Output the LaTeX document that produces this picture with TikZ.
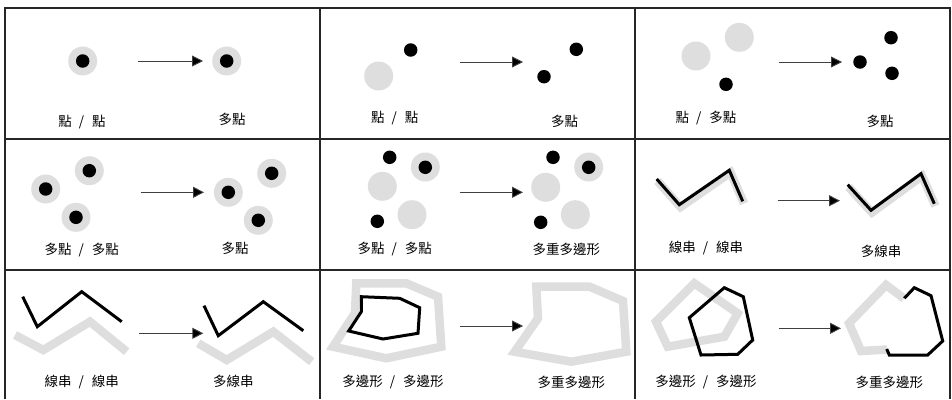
\documentclass[tikz,border=0pt]{standalone}
\usepackage{fontspec}
\setmainfont{Noto Sans CJK TC}
\usetikzlibrary{arrows.meta}
\definecolor{lg}{RGB}{222,222,222}
\newcommand{\slsep}{\hspace{7pt}/\hspace{8pt}}
\tikzset{
 gridline/.style={line width=1.4pt, draw=black!85},
 halo/.style={circle, fill=lg, minimum size=29pt, inner sep=0pt},
 dot/.style={circle, fill=black, minimum size=13.5pt, inner sep=0pt},
 arr/.style={-{Triangle[length=11pt,width=11pt,fill=black]}, line width=0.9pt, draw=black!75},
 lbl/.style={font=\fontsize{13.5}{15}\selectfont, inner sep=0pt},
 bline/.style={line width=3pt, line join=miter, draw=black},
 gline/.style={line width=8.5pt, draw=lg, line join=miter},
}
\begin{document}
\begin{tikzpicture}[x=1pt,y=-1pt]
\useasboundingbox (0,0) rectangle (952,399);
% grid
\draw[gridline] (5,399) -- (5,8) -- (950,8) -- (950,399);
\draw[gridline] (320,8) -- (320,399);
\draw[gridline] (635,8) -- (635,399);
\draw[gridline] (5,139) -- (950,139);
\draw[gridline] (5,270) -- (950,270);

% ---------- cell 1
\node[halo] (h11) at (82.7,61) {};
\node[dot] (d11) at (82.7,61) {};
\node[halo] (h12) at (226.7,61) {};
\node[dot] (d12) at (226.7,61) {};
\coordinate (a1s) at (138,61);
\coordinate (a1e) at (203,61);
\draw[arr] (a1s) -- (a1e);
\node[lbl] (l1a) at (82,122) {點\slsep 點};
\node[lbl] (l1b) at (232,119.5) {多點};

% ---------- cell 2
\node[halo] (h21) at (378.7,76) {};
\node[dot] (d21) at (410.7,50) {};
\node[dot] (d22) at (544,76.7) {};
\node[dot] (d23) at (576.3,49.3) {};
\coordinate (a2s) at (459.7,62);
\coordinate (a2e) at (523,62);
\draw[arr] (a2s) -- (a2e);
\node[lbl] (l2a) at (394.7,118) {點\slsep 點};
\node[lbl] (l2b) at (564.7,121.7) {多點};

% ---------- cell 3
\node[halo] (h31) at (696,56) {};
\node[halo] (h32) at (739.3,37.3) {};
\node[dot] (d31) at (726,84.3) {};
\node[dot] (d32) at (860,62) {};
\node[dot] (d33) at (891,37.7) {};
\node[dot] (d34) at (892,73.3) {};
\coordinate (a3s) at (778.7,62);
\coordinate (a3e) at (842,62);
\draw[arr] (a3s) -- (a3e);
\node[lbl] (l3a) at (706,118.3) {點\slsep 多點};
\node[lbl] (l3b) at (880,121.7) {多點};

% ---------- cell 4
\node[halo] (h41) at (45.7,189) {};
\node[dot] (d41) at (45.7,189) {};
\node[halo] (h42) at (89.3,170.7) {};
\node[dot] (d42) at (89.3,170.7) {};
\node[halo] (h43) at (76,217.3) {};
\node[dot] (d43) at (76,217.3) {};
\node[halo] (h44) at (228.3,192.3) {};
\node[dot] (d44) at (228.3,192.3) {};
\node[halo] (h45) at (271.7,173.3) {};
\node[dot] (d45) at (271.7,173.3) {};
\node[halo] (h46) at (258.3,220.3) {};
\node[dot] (d46) at (258.3,220.3) {};
\coordinate (a4s) at (140.7,192.3);
\coordinate (a4e) at (204,192.3);
\draw[arr] (a4s) -- (a4e);
\node[lbl] (l4a) at (81.7,249.7) {多點\slsep 多點};
\node[lbl] (l4b) at (235,248) {多點};

% ---------- cell 5
\node[dot] (d51) at (389.7,157.3) {};
\node[halo] (h51) at (425.3,167) {};
\node[dot] (d52) at (425.3,167.3) {};
\node[halo] (h52) at (382.3,186.3) {};
\node[halo] (h53) at (412,214.7) {};
\node[dot] (d53) at (377.3,221.3) {};
\node[dot] (d54) at (553,157.3) {};
\node[halo] (h54) at (588.7,167) {};
\node[dot] (d55) at (588.7,167.3) {};
\node[halo] (h55) at (545.7,187.3) {};
\node[halo] (h56) at (575.3,214.7) {};
\node[dot] (d56) at (540.7,222.3) {};
\coordinate (a5s) at (459.7,192.3);
\coordinate (a5e) at (523,192.3);
\draw[arr] (a5s) -- (a5e);
\node[lbl] (l5a) at (394.7,249) {多點\slsep 多點};
\node[lbl] (l5b) at (566.3,249.7) {多重多邊形};

% ---------- cell 6
\draw[gline] (657.5,181) -- (680.5,207) -- (730.5,172.5) -- (744,203.5);
\draw[bline] (656.7,179) -- (679.3,204.7) -- (729.3,170.3) -- (742.7,201.3);
\draw[gline] (848.5,187) -- (872,212.5) -- (922,176) -- (935.5,206);
\draw[bline] (847.7,184.7) -- (871,210.3) -- (921,173.7) -- (934.3,203.7);
\coordinate (a6s) at (777.7,200.7);
\coordinate (a6e) at (840,200.7);
\draw[arr] (a6s) -- (a6e);
\node[lbl] (l6a) at (706,248) {線串\slsep 線串};
\node[lbl] (l6b) at (881,251.3) {多線串};

% ---------- cell 7
\draw[gline] (15,335) -- (43.3,350) -- (90,321.7) -- (126.7,351.7);
\draw[bline] (22.7,296.7) -- (37.3,326.7) -- (81.7,291.7) -- (121.7,321.7);
\draw[gline] (198.3,343.3) -- (226.7,360) -- (273.3,331.7) -- (311.7,361.7);
\draw[bline] (204,305.7) -- (218.3,335.7) -- (263.3,301.7) -- (303.3,330.7);
\coordinate (a7s) at (139.3,333.3);
\coordinate (a7e) at (203.3,333.3);
\draw[arr] (a7s) -- (a7e);
\node[lbl] (l7a) at (81.7,381.7) {線串\slsep 線串};
\node[lbl] (l7b) at (233.3,381.7) {多線串};

% ---------- cell 8
\draw[gline] (356.3,283.3) -- (406.3,283.3) -- (438,296.7) -- (441.3,346.7) -- (386.3,358.3) -- (333,346.7) -- (355,313) -- cycle;
\draw[bline] (361.3,296.7) -- (399.7,298.3) -- (419.7,307.7) -- (418,333.3) -- (383,339) -- (348.7,331) -- (361.3,311.7) -- cycle;
\draw[gline] (536.3,286.7) -- (589.7,286.7) -- (623,301) -- (626.3,351.7) -- (571.3,361.7) -- (514.7,351.7) -- (538,318.3) -- cycle;
\coordinate (a8s) at (459.7,326);
\coordinate (a8e) at (523,326);
\draw[arr] (a8s) -- (a8e);
\node[lbl] (l8a) at (393,382.3) {多邊形\slsep 多邊形};
\node[lbl] (l8b) at (571.3,382.3) {多重多邊形};

% ---------- cell 9
\draw[gline] (694.3,283.3) -- (737.7,313.3) -- (724.3,336.7) -- (667.7,346.7) -- (656,321.7) -- cycle;
\draw[bline] (724.3,287.7) -- (743.3,296.7) -- (752.7,340) -- (737.7,354.3) -- (701,355) -- (689.3,317.7) -- cycle;
\draw[gline] (904,298.5) -- (886,285) -- (849,323.3) -- (861,351) -- (887,349.5);
\draw[bline] (904.3,298.3) -- (914.3,287.7) -- (931,295.7) -- (942.7,341) -- (927.7,355) -- (889.3,355) -- (886.7,349);
\coordinate (a9s) at (778.7,328.3);
\coordinate (a9e) at (841,328.3);
\draw[arr] (a9s) -- (a9e);
\node[lbl] (l9a) at (706,382.3) {多邊形\slsep 多邊形};
\node[lbl] (l9b) at (889.3,382.3) {多重多邊形};
\end{tikzpicture}
\end{document}
